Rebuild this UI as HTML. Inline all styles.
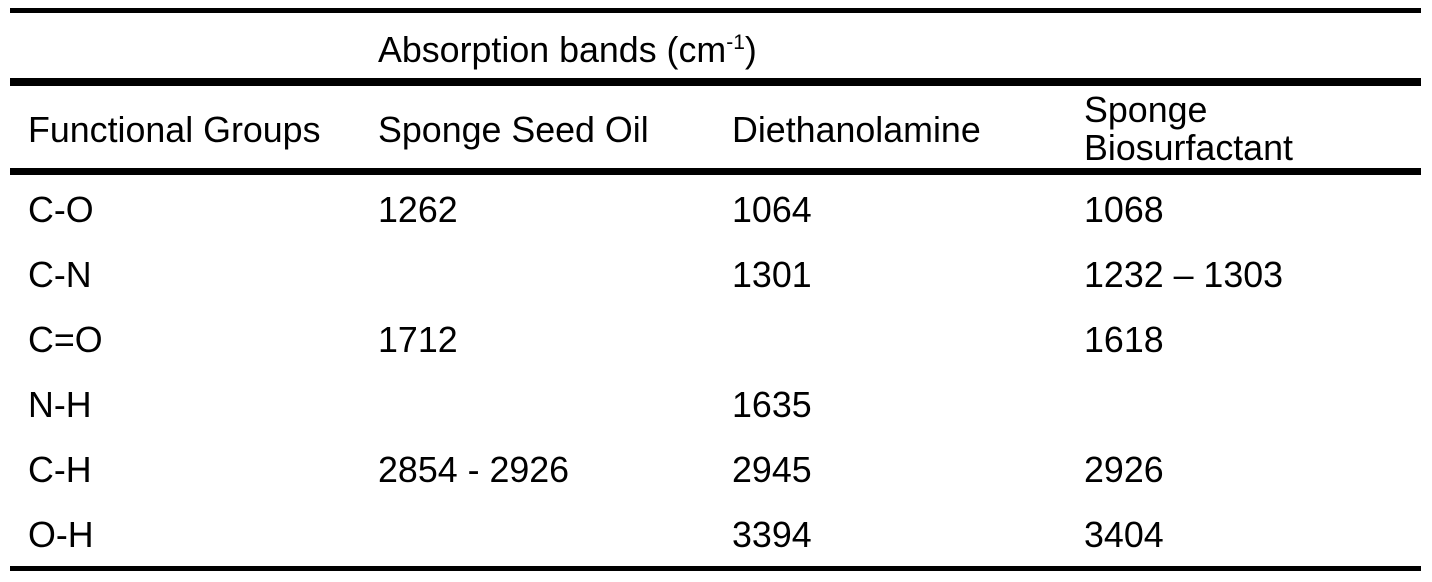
<!DOCTYPE html>
<html><head><style>
body{margin:0;width:1432px;height:582px;background:#fff;position:relative;font-family:"Liberation Sans",Arial,sans-serif;font-size:35.8px;color:#000;overflow:hidden}
.l{position:absolute;left:10px;width:1411px;background:#000}
.t{position:absolute;line-height:40px;white-space:nowrap}
sup{font-size:21px;line-height:0}
</style></head><body>
<div class="l" style="top:8px;height:5px"></div>
<div class="l" style="top:78px;height:8px"></div>
<div class="l" style="top:168px;height:7px"></div>
<div class="l" style="top:566px;height:5px"></div>

<div class="t" style="left:378px;top:30px">Absorption bands (cm<sup>-1</sup>)</div>

<div class="t" style="left:28px;top:110px">Functional Groups</div>
<div class="t" style="left:378px;top:110px">Sponge Seed Oil</div>
<div class="t" style="left:732px;top:110px">Diethanolamine</div>
<div class="t" style="left:1084px;top:90px">Sponge</div>
<div class="t" style="left:1084px;top:128px">Biosurfactant</div>

<div class="t" style="left:28px;top:190px">C-O</div>
<div class="t" style="left:378px;top:190px">1262</div>
<div class="t" style="left:732px;top:190px">1064</div>
<div class="t" style="left:1084px;top:190px">1068</div>

<div class="t" style="left:28px;top:255px">C-N</div>
<div class="t" style="left:732px;top:255px">1301</div>
<div class="t" style="left:1084px;top:255px">1232 – 1303</div>

<div class="t" style="left:28px;top:320px">C=O</div>
<div class="t" style="left:378px;top:320px">1712</div>
<div class="t" style="left:1084px;top:320px">1618</div>

<div class="t" style="left:28px;top:385px">N-H</div>
<div class="t" style="left:732px;top:385px">1635</div>

<div class="t" style="left:28px;top:450px">C-H</div>
<div class="t" style="left:378px;top:450px">2854 - 2926</div>
<div class="t" style="left:732px;top:450px">2945</div>
<div class="t" style="left:1084px;top:450px">2926</div>

<div class="t" style="left:28px;top:515px">O-H</div>
<div class="t" style="left:732px;top:515px">3394</div>
<div class="t" style="left:1084px;top:515px">3404</div>
</body></html>
